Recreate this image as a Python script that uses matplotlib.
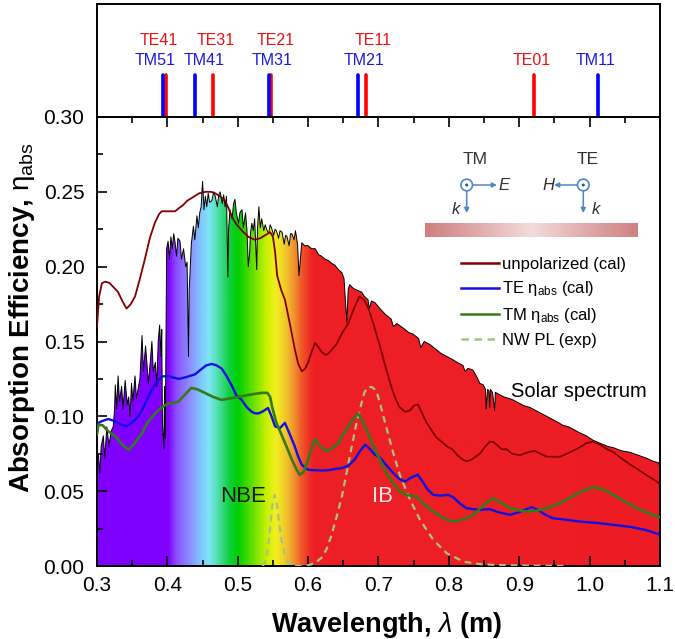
import numpy as np
import matplotlib
matplotlib.use("Agg")
import matplotlib.pyplot as plt
from matplotlib.colors import LinearSegmentedColormap
from matplotlib.patches import Polygon, Circle
from matplotlib.ticker import MultipleLocator

plt.rcParams['font.family'] = ['Liberation Sans', 'DejaVu Sans']
plt.rcParams['mathtext.fontset'] = 'custom'
plt.rcParams['mathtext.rm'] = 'Liberation Sans'
plt.rcParams['mathtext.it'] = 'Liberation Sans:italic'
plt.rcParams['mathtext.bf'] = 'Liberation Sans:bold'

# ---------------- data ----------------
# mode cut-off wavelengths (um) for the top panel
te_modes = ['TE41', 'TE31', 'TE21', 'TE11', 'TE01']
te_wl = [0.3975, 0.4645, 0.5467, 0.6818, 0.9210]
tm_modes = ['TM51', 'TM41', 'TM31', 'TM21', 'TM11']
tm_wl = [0.3933, 0.4386, 0.5446, 0.6707, 1.0120]

# solar spectrum (scaled to eta axis)
solar_wl = [0.300, 0.302, 0.304, 0.306, 0.309, 0.311, 0.314, 0.317, 0.320, 0.323,
            0.325, 0.326, 0.328, 0.330, 0.332, 0.335, 0.337, 0.340, 0.343, 0.345,
            0.347, 0.349, 0.351, 0.354, 0.356, 0.359, 0.361, 0.364, 0.366, 0.369,
            0.371, 0.373, 0.376, 0.378, 0.380, 0.383, 0.385, 0.387, 0.389, 0.391,
            0.392, 0.393, 0.395, 0.396, 0.397, 0.398, 0.399, 0.401, 0.403, 0.405,
            0.407, 0.409, 0.411, 0.413, 0.415, 0.418, 0.420, 0.423, 0.426, 0.428,
            0.430, 0.431, 0.432, 0.434, 0.437, 0.439, 0.442, 0.444, 0.446, 0.448,
            0.450, 0.452, 0.454, 0.456, 0.458, 0.460, 0.463, 0.466, 0.468, 0.471,
            0.473, 0.475, 0.478, 0.480, 0.482, 0.484, 0.486, 0.487, 0.489, 0.492,
            0.494, 0.496, 0.498, 0.501, 0.503, 0.506, 0.508, 0.511, 0.513, 0.515,
            0.517, 0.518, 0.520, 0.522, 0.524, 0.527, 0.528, 0.530, 0.532, 0.534,
            0.537, 0.539, 0.541, 0.544, 0.546, 0.548, 0.551, 0.553, 0.555, 0.558,
            0.560, 0.563, 0.566, 0.568, 0.570, 0.573, 0.575, 0.577, 0.580, 0.582,
            0.585, 0.587, 0.589, 0.591, 0.595, 0.600, 0.605, 0.610, 0.615, 0.619,
            0.624, 0.629, 0.634, 0.638, 0.643, 0.648, 0.651, 0.653, 0.655, 0.657,
            0.659, 0.663, 0.666, 0.671, 0.676, 0.680, 0.685, 0.687, 0.690, 0.695,
            0.702, 0.710, 0.718, 0.721, 0.726, 0.735, 0.743, 0.749, 0.757, 0.760,
            0.765, 0.773, 0.781, 0.789, 0.797, 0.805, 0.812, 0.820, 0.823, 0.827,
            0.834, 0.840, 0.844, 0.849, 0.852, 0.853, 0.855, 0.857, 0.858, 0.859,
            0.862, 0.865, 0.866, 0.870, 0.878, 0.885, 0.891, 0.899, 0.907, 0.915,
            0.923, 0.931, 0.939, 0.947, 0.955, 0.962, 0.970, 0.978, 0.986, 0.995,
            1.005, 1.015, 1.025, 1.034, 1.045, 1.057, 1.069, 1.081, 1.090, 1.098,
            1.100]
solar_v = [0.070, 0.075, 0.062, 0.080, 0.087, 0.072, 0.093, 0.080, 0.090, 0.093,
           0.105, 0.121, 0.105, 0.127, 0.110, 0.120, 0.105, 0.124, 0.108, 0.113,
           0.100, 0.122, 0.110, 0.127, 0.112, 0.120, 0.125, 0.154, 0.130, 0.147,
           0.135, 0.122, 0.138, 0.150, 0.130, 0.136, 0.120, 0.150, 0.161, 0.140,
           0.158, 0.095, 0.078, 0.120, 0.085, 0.150, 0.212, 0.217, 0.205, 0.220,
           0.212, 0.222, 0.216, 0.207, 0.219, 0.217, 0.205, 0.212, 0.200, 0.203,
           0.140, 0.185, 0.194, 0.215, 0.227, 0.218, 0.234, 0.226, 0.236, 0.240,
           0.257, 0.238, 0.247, 0.240, 0.249, 0.243, 0.244, 0.250, 0.247, 0.240,
           0.248, 0.250, 0.242, 0.248, 0.240, 0.247, 0.193, 0.225, 0.238, 0.232,
           0.242, 0.245, 0.236, 0.229, 0.236, 0.238, 0.226, 0.236, 0.225, 0.200,
           0.210, 0.222, 0.229, 0.224, 0.232, 0.198, 0.225, 0.240, 0.226, 0.232,
           0.224, 0.228, 0.225, 0.222, 0.228, 0.226, 0.221, 0.225, 0.224, 0.219,
           0.224, 0.223, 0.215, 0.221, 0.220, 0.214, 0.222, 0.222, 0.218, 0.224,
           0.215, 0.194, 0.205, 0.216, 0.214, 0.214, 0.212, 0.212, 0.208, 0.207,
           0.205, 0.204, 0.202, 0.201, 0.198, 0.196, 0.192, 0.178, 0.163, 0.185,
           0.188, 0.186, 0.185, 0.184, 0.183, 0.180, 0.178, 0.172, 0.177, 0.176,
           0.172, 0.168, 0.165, 0.160, 0.162, 0.159, 0.156, 0.155, 0.152, 0.146,
           0.150, 0.148, 0.145, 0.142, 0.140, 0.138, 0.136, 0.134, 0.130, 0.132,
           0.131, 0.126, 0.122, 0.121, 0.118, 0.105, 0.118, 0.117, 0.106, 0.118,
           0.116, 0.104, 0.116, 0.115, 0.113, 0.112, 0.111, 0.109, 0.107, 0.106,
           0.104, 0.102, 0.100, 0.098, 0.096, 0.094, 0.093, 0.091, 0.089, 0.087,
           0.084, 0.082, 0.080, 0.079, 0.077, 0.076, 0.074, 0.072, 0.070, 0.069,
           0.066]

unpol_wl = [0.300, 0.303, 0.307, 0.312, 0.318, 0.324, 0.330, 0.336, 0.342, 0.348,
            0.354, 0.361, 0.368, 0.375, 0.382, 0.388, 0.392, 0.400, 0.411, 0.416,
            0.422, 0.428, 0.435, 0.445, 0.454, 0.462, 0.468, 0.475, 0.482, 0.487,
            0.491, 0.497, 0.506, 0.515, 0.524, 0.532, 0.539, 0.546, 0.550, 0.553,
            0.556, 0.562, 0.567, 0.574, 0.581, 0.586, 0.591, 0.596, 0.600, 0.605,
            0.610, 0.615, 0.619, 0.625, 0.629, 0.640, 0.650, 0.657, 0.665, 0.673,
            0.679, 0.685, 0.692, 0.702, 0.710, 0.718, 0.724, 0.730, 0.738, 0.745,
            0.750, 0.756, 0.762, 0.768, 0.775, 0.782, 0.790, 0.797, 0.805, 0.812,
            0.820, 0.825, 0.832, 0.838, 0.844, 0.852, 0.858, 0.863, 0.868, 0.875,
            0.882, 0.890, 0.901, 0.912, 0.922, 0.930, 0.940, 0.948, 0.958, 0.972,
            0.985, 0.995, 1.005, 1.015, 1.025, 1.034, 1.045, 1.057, 1.067, 1.080,
            1.090, 1.100]
unpol_v = [0.160, 0.180, 0.189, 0.190, 0.189, 0.186, 0.183, 0.177, 0.172, 0.175,
           0.180, 0.192, 0.205, 0.219, 0.229, 0.235, 0.237, 0.237, 0.237, 0.239,
           0.241, 0.244, 0.246, 0.249, 0.250, 0.250, 0.249, 0.247, 0.244, 0.239,
           0.234, 0.229, 0.224, 0.220, 0.218, 0.219, 0.221, 0.223, 0.220, 0.210,
           0.194, 0.184, 0.178, 0.162, 0.145, 0.135, 0.130, 0.132, 0.136, 0.143,
           0.149, 0.146, 0.143, 0.141, 0.142, 0.148, 0.157, 0.162, 0.172, 0.180,
           0.178, 0.173, 0.163, 0.147, 0.133, 0.120, 0.112, 0.106, 0.103, 0.104,
           0.107, 0.108, 0.102, 0.096, 0.091, 0.086, 0.083, 0.080, 0.078, 0.074,
           0.071, 0.070, 0.071, 0.073, 0.075, 0.080, 0.083, 0.083, 0.081, 0.078,
           0.078, 0.075, 0.074, 0.076, 0.077, 0.075, 0.073, 0.073, 0.073, 0.076,
           0.079, 0.082, 0.083, 0.081, 0.078, 0.076, 0.072, 0.068, 0.065, 0.061,
           0.058, 0.055]

te_wl_curve = [0.300, 0.302, 0.308, 0.316, 0.324, 0.332, 0.342, 0.350, 0.357, 0.364,
               0.370, 0.378, 0.385, 0.392, 0.400, 0.408, 0.416, 0.425, 0.432, 0.439,
               0.447, 0.455, 0.463, 0.470, 0.477, 0.484, 0.491, 0.498, 0.5055, 0.513,
               0.520, 0.5245, 0.530, 0.536, 0.543, 0.548, 0.553, 0.560, 0.567, 0.574,
               0.581, 0.586, 0.591, 0.600, 0.610, 0.619, 0.630, 0.640, 0.648, 0.657,
               0.666, 0.674, 0.681, 0.688, 0.695, 0.702, 0.710, 0.721, 0.730, 0.738,
               0.746, 0.756, 0.763, 0.770, 0.778, 0.788, 0.799, 0.806, 0.815, 0.825,
               0.835, 0.844, 0.858, 0.870, 0.887, 0.900, 0.910, 0.918, 0.928, 0.938,
               0.948, 0.965, 0.986, 1.010, 1.034, 1.060, 1.080, 1.100]
te_v = [0.090, 0.0956, 0.097, 0.0982, 0.097, 0.095, 0.0933, 0.096, 0.099, 0.104,
        0.110, 0.118, 0.123, 0.1266, 0.127, 0.126, 0.125, 0.126, 0.127, 0.128,
        0.131, 0.134, 0.135, 0.134, 0.132, 0.127, 0.121, 0.114, 0.111, 0.106,
        0.103, 0.102, 0.102, 0.1034, 0.1056, 0.100, 0.0933, 0.0922, 0.0956, 0.088,
        0.0799, 0.073, 0.0676, 0.0643, 0.064, 0.0638, 0.064, 0.065, 0.0654, 0.067,
        0.071, 0.077, 0.081, 0.078, 0.0743, 0.0725, 0.068, 0.0621, 0.058, 0.0565,
        0.059, 0.061, 0.056, 0.051, 0.0475, 0.047, 0.0475, 0.046, 0.042, 0.0386,
        0.038, 0.0375, 0.038, 0.036, 0.0342, 0.036, 0.038, 0.0393, 0.037, 0.034,
        0.0319, 0.031, 0.0297, 0.0288, 0.0275, 0.026, 0.024, 0.021]

tm_wl_curve = [0.300, 0.302, 0.308, 0.316, 0.326, 0.336, 0.345, 0.352, 0.358, 0.364,
               0.372, 0.383, 0.392, 0.401, 0.410, 0.416, 0.424, 0.434, 0.443, 0.453,
               0.465, 0.477, 0.489, 0.501, 0.512, 0.524, 0.535, 0.542, 0.546, 0.549,
               0.555, 0.562, 0.570, 0.577, 0.583, 0.588, 0.594, 0.600, 0.605, 0.610,
               0.617, 0.626, 0.635, 0.643, 0.650, 0.657, 0.664, 0.671, 0.678, 0.685,
               0.693, 0.702, 0.711, 0.721, 0.730, 0.740, 0.754, 0.765, 0.778, 0.792,
               0.806, 0.820, 0.835, 0.850, 0.863, 0.875, 0.887, 0.900, 0.911, 0.925,
               0.939, 0.953, 0.967, 0.985, 1.005, 1.020, 1.034, 1.050, 1.067, 1.085,
               1.100]
tm_v = [0.088, 0.0944, 0.094, 0.090, 0.0866, 0.081, 0.0777, 0.081, 0.085, 0.0888,
        0.096, 0.102, 0.106, 0.1085, 0.109, 0.110, 0.114, 0.119, 0.118, 0.1157,
        0.113, 0.111, 0.112, 0.113, 0.114, 0.115, 0.1157, 0.1157, 0.113, 0.106,
        0.0956, 0.088, 0.079, 0.071, 0.065, 0.0609, 0.063, 0.071, 0.079, 0.0848,
        0.080, 0.0766, 0.079, 0.0822, 0.088, 0.0933, 0.098, 0.102, 0.096, 0.0888,
        0.080, 0.071, 0.062, 0.0554, 0.050, 0.0475, 0.0464, 0.041, 0.0364, 0.032,
        0.0297, 0.031, 0.0342, 0.041, 0.0453, 0.042, 0.0386, 0.0372, 0.0364, 0.037,
        0.0386, 0.041, 0.0442, 0.049, 0.0527, 0.051, 0.0475, 0.043, 0.0386, 0.035,
        0.0325]

pl_wl = [0.535, 0.539, 0.543, 0.546, 0.549, 0.5525, 0.555, 0.558, 0.562, 0.566,
         0.571, 0.578, 0.590, 0.600, 0.610, 0.619, 0.626, 0.633, 0.640, 0.648,
         0.655, 0.662, 0.669, 0.676, 0.680, 0.685, 0.691, 0.697, 0.702, 0.707,
         0.712, 0.721, 0.731, 0.745, 0.759, 0.778, 0.797, 0.821, 0.845, 0.868,
         0.900, 0.968]
pl_v = [0.0, 0.002, 0.012, 0.026, 0.040, 0.0475, 0.044, 0.032, 0.018, 0.009,
        0.003, 0.0, 0.0, 0.0005, 0.002, 0.0055, 0.011, 0.0203, 0.032, 0.0465,
        0.063, 0.0799, 0.096, 0.109, 0.116, 0.1197, 0.1195, 0.117, 0.109, 0.100,
        0.0911, 0.0755, 0.0598, 0.0442, 0.0308, 0.0174, 0.0085, 0.0029, 0.0012, 0.0007,
        0.0003, 0.0]

x_ticks = [0.3, 0.4, 0.5, 0.6, 0.7, 0.8, 0.9, 1.0, 1.1]
y_ticks = [0.00, 0.05, 0.10, 0.15, 0.20, 0.25, 0.30]

# ---------------- figure ----------------
W, H = 675, 639
fig = plt.figure(figsize=(W / 100, H / 100), dpi=100)


def fx(px):
    return px / W


def fy(py):
    return 1 - py / H


L, R, T, B = 97, 660, 117, 566
ax = fig.add_axes([fx(L), fy(B), (R - L) / W, (B - T) / H])
axt = fig.add_axes([fx(L), fy(T), (R - L) / W, (T - 4) / H])

# spectral gradient fill of the solar spectrum
spec_stops = [(0.300, '#7f00ff'), (0.400, '#8000ff'), (0.412, '#8a50ff'),
              (0.430, '#8c8cff'), (0.447, '#80c8ff'), (0.458, '#80e4f4'),
              (0.470, '#50e0b0'), (0.487, '#10d040'), (0.500, '#00d000'),
              (0.520, '#60e000'), (0.540, '#c8f000'), (0.553, '#f2f020'),
              (0.565, '#f0d028'), (0.578, '#f09a30'), (0.592, '#f05028'),
              (0.606, '#ee2024'), (1.100, '#ed1c24')]
cmap = LinearSegmentedColormap.from_list(
    'spec', [((w - 0.3) / 0.8, c) for w, c in spec_stops])
grad = np.linspace(0, 1, 1600)[None, :]
im = ax.imshow(grad, extent=[0.3, 1.1, 0, 0.3], aspect='auto', cmap=cmap,
               origin='lower', zorder=1, interpolation='bilinear')
poly = Polygon(list(zip(solar_wl, solar_v)) + [(1.1, 0.0), (0.3, 0.0)],
               closed=True, facecolor='none', edgecolor='none')
ax.add_patch(poly)
im.set_clip_path(poly)
ax.plot(solar_wl, solar_v, color='black', lw=0.7, zorder=2)

ax.plot(unpol_wl, unpol_v, color='#800000', lw=1.3, zorder=4, label='unpolarized (cal)')
ax.plot(te_wl_curve, te_v, color='#1010e0', lw=1.7, zorder=5,
        label=r'TE $\mathrm{\eta}_{\rm abs}$ (cal)')
ax.plot(tm_wl_curve, tm_v, color='#357a18', lw=1.9, zorder=5,
        label=r'TM $\mathrm{\eta}_{\rm abs}$ (cal)')
ax.plot(pl_wl, pl_v, color='#a6c47c', lw=1.6, ls=(0, (3, 2.2)), zorder=3, label='NW PL (exp)')

ax.set_xlim(0.3, 1.1)
ax.set_ylim(0.0, 0.3)
ax.set_xticks(x_ticks)
ax.set_yticks(y_ticks)
ax.set_xticklabels([f'{v:.1f}' for v in x_ticks])
ax.set_yticklabels([f'{v:.2f}' for v in y_ticks])
ax.xaxis.set_minor_locator(MultipleLocator(0.05))
ax.yaxis.set_minor_locator(MultipleLocator(0.025))
ax.tick_params(which='both', direction='in', top=True, right=False, width=1.2,
               labelsize=15)
ax.tick_params(which='major', length=7)
ax.tick_params(which='minor', length=4)
ax.tick_params(axis='x', pad=7)
ax.tick_params(axis='y', pad=9)
for s in ax.spines.values():
    s.set_linewidth(1.4)

ax.text(0.507, 0.0462, 'NBE', fontsize=16, color='#151515', ha='center', va='center', zorder=6)
ax.text(0.706, 0.0462, 'IB', fontsize=16, color='#ffe6e6', ha='center', va='center', zorder=6)
ax.text(0.985, 0.1165, 'Solar spectrum', fontsize=14.5, color='black', ha='center', va='center', zorder=6)

leg = ax.legend(loc='upper left', bbox_to_anchor=(fx(461), fy(257)),
                bbox_transform=fig.transFigure, frameon=False, fontsize=12,
                borderpad=0, borderaxespad=0, handlelength=2.3,
                handletextpad=0.15, labelspacing=0.45)
for ln in leg.get_lines():
    ln.set_linewidth(1.8)

fig.text(fx(22), fy(318), r'Absorption Efficiency, $\mathrm{\eta}_{\rm abs}$', rotation=90,
         fontsize=20, fontweight='bold', ha='center', va='center')
fig.text(fx(386), fy(632), r'Wavelength, $\lambda$ (m)', fontsize=19.5,
         fontweight='bold', ha='center', va='baseline')

# ---------------- top panel ----------------
axt.set_xlim(0.3, 1.1)
axt.set_ylim(0, 1)
axt.set_xticks([])
axt.set_yticks([])
for s in axt.spines.values():
    s.set_linewidth(1.4)
axt.vlines(te_wl, 0, 0.37, color='#ff0000', lw=2.6, capstyle='round')
axt.vlines(tm_wl, 0, 0.37, color='#0000ff', lw=2.6, capstyle='round')
te_label_x = [0.388, 0.4685, 0.554, 0.692, 0.9177]
te_label_y = [0.68, 0.68, 0.68, 0.68, 0.50]
tm_label_x = [0.383, 0.452, 0.549, 0.679, 1.0085]
for name, x, y in zip(te_modes, te_label_x, te_label_y):
    axt.text(x, y, name, color='#ee1111', fontsize=11.5, ha='center', va='center')
for name, x in zip(tm_modes, tm_label_x):
    axt.text(x, 0.50, name, color='#1c1cd8', fontsize=11.5, ha='center', va='center')

# ---------------- schematic inset ----------------
axi = fig.add_axes([fx(420), fy(245), 240 / W, 110 / H], zorder=10)
axi.axis('off')
axi.patch.set_alpha(0)

bar_cols = LinearSegmentedColormap.from_list(
    'bar', [(0, '#cf7f80'), (0.2, '#dea2a2'), (0.5, '#f3dcdc'), (0.8, '#dea2a2'), (1, '#cf8284')])
axi.imshow(np.linspace(0, 1, 300)[None, :], extent=[425, 638, 237, 223], aspect='auto',
           cmap=bar_cols, zorder=1)
axi.set_xlim(420, 660)
axi.set_ylim(245, 135)

ac = '#4f86c6'
tc = '#303030'
axi.text(475, 160, 'TM', fontsize=12.5, color=tc, ha='center', va='center')
axi.text(588, 160, 'TE', fontsize=12.5, color=tc, ha='center', va='center')
for cx in (466.7, 583.3):
    axi.add_patch(Circle((cx, 185), 5.8, facecolor='white', edgecolor=ac, lw=1.2, zorder=3))
    axi.add_patch(Circle((cx, 185), 1.5, facecolor='#2a5090', edgecolor='none', zorder=4))
    axi.annotate('', xy=(cx, 213), xytext=(cx, 191),
                 arrowprops=dict(arrowstyle='-|>', color=ac, lw=1.1, mutation_scale=7,
                                 shrinkA=0, shrinkB=0))
axi.annotate('', xy=(497, 185), xytext=(472.5, 185),
             arrowprops=dict(arrowstyle='-|>', color=ac, lw=1.1, mutation_scale=7,
                             shrinkA=0, shrinkB=0))
axi.annotate('', xy=(554, 185), xytext=(577.5, 185),
             arrowprops=dict(arrowstyle='-|>', color=ac, lw=1.1, mutation_scale=7,
                             shrinkA=0, shrinkB=0))
axi.text(504, 185, 'E', fontsize=12, style='italic', color=tc, ha='center', va='center')
axi.text(548, 185, 'H', fontsize=12, style='italic', color=tc, ha='center', va='center')
axi.text(456, 209, 'k', fontsize=12, style='italic', color=tc, ha='center', va='center')
axi.text(596, 209, 'k', fontsize=12, style='italic', color=tc, ha='center', va='center')

fig.savefig('out.png', dpi=100)
